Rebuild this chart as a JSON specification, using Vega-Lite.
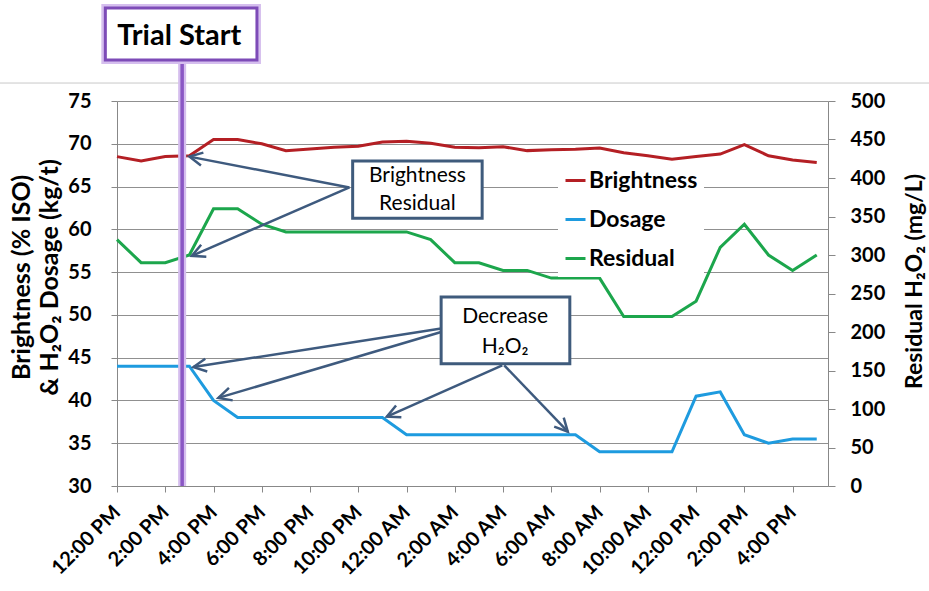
{
  "$schema": "https://vega.github.io/schema/vega-lite/v6.json",
  "width": 711,
  "height": 385,
  "autosize": "none",
  "padding": {"left": 117, "top": 101, "right": 101, "bottom": 105},
  "background": "white",
  "config": {
    "font": "Lato",
    "view": {"stroke": null},
    "axis": {"labelFont": "Lato", "titleFont": "Lato"},
    "legend": {"labelFont": "Lato"}
  },
  "datasets": {
    "series": [
      {"t": "2020-01-01T12:00:00", "Brightness": 68.5, "Dosage": 44, "Residual": 320},
      {"t": "2020-01-01T13:00:00", "Brightness": 68.0, "Dosage": 44, "Residual": 290},
      {"t": "2020-01-01T14:00:00", "Brightness": 68.5, "Dosage": 44, "Residual": 290},
      {"t": "2020-01-01T15:00:00", "Brightness": 68.6, "Dosage": 44, "Residual": 300},
      {"t": "2020-01-01T16:00:00", "Brightness": 70.5, "Dosage": 40, "Residual": 360},
      {"t": "2020-01-01T17:00:00", "Brightness": 70.5, "Dosage": 38, "Residual": 360},
      {"t": "2020-01-01T18:00:00", "Brightness": 70.0, "Dosage": 38, "Residual": 340},
      {"t": "2020-01-01T19:00:00", "Brightness": 69.2, "Dosage": 38, "Residual": 330},
      {"t": "2020-01-01T20:00:00", "Brightness": 69.4, "Dosage": 38, "Residual": 330},
      {"t": "2020-01-01T21:00:00", "Brightness": 69.6, "Dosage": 38, "Residual": 330},
      {"t": "2020-01-01T22:00:00", "Brightness": 69.7, "Dosage": 38, "Residual": 330},
      {"t": "2020-01-01T23:00:00", "Brightness": 70.2, "Dosage": 38, "Residual": 330},
      {"t": "2020-01-02T00:00:00", "Brightness": 70.3, "Dosage": 36, "Residual": 330},
      {"t": "2020-01-02T01:00:00", "Brightness": 70.05, "Dosage": 36, "Residual": 320},
      {"t": "2020-01-02T02:00:00", "Brightness": 69.6, "Dosage": 36, "Residual": 290},
      {"t": "2020-01-02T03:00:00", "Brightness": 69.55, "Dosage": 36, "Residual": 290},
      {"t": "2020-01-02T04:00:00", "Brightness": 69.65, "Dosage": 36, "Residual": 280},
      {"t": "2020-01-02T05:00:00", "Brightness": 69.2, "Dosage": 36, "Residual": 280},
      {"t": "2020-01-02T06:00:00", "Brightness": 69.3, "Dosage": 36, "Residual": 270},
      {"t": "2020-01-02T07:00:00", "Brightness": 69.35, "Dosage": 36, "Residual": 270},
      {"t": "2020-01-02T08:00:00", "Brightness": 69.5, "Dosage": 34, "Residual": 270},
      {"t": "2020-01-02T09:00:00", "Brightness": 68.95, "Dosage": 34, "Residual": 220},
      {"t": "2020-01-02T10:00:00", "Brightness": 68.6, "Dosage": 34, "Residual": 220},
      {"t": "2020-01-02T11:00:00", "Brightness": 68.2, "Dosage": 34, "Residual": 220},
      {"t": "2020-01-02T12:00:00", "Brightness": 68.5, "Dosage": 40.5, "Residual": 240},
      {"t": "2020-01-02T13:00:00", "Brightness": 68.8, "Dosage": 41, "Residual": 310},
      {"t": "2020-01-02T14:00:00", "Brightness": 69.9, "Dosage": 36, "Residual": 340},
      {"t": "2020-01-02T15:00:00", "Brightness": 68.6, "Dosage": 35, "Residual": 300},
      {"t": "2020-01-02T16:00:00", "Brightness": 68.1, "Dosage": 35.5, "Residual": 280},
      {"t": "2020-01-02T17:00:00", "Brightness": 67.8, "Dosage": 35.5, "Residual": 300}
    ],
    "arrows": [
      {"id": "B1", "t1": "2020-01-01T21:38:00", "v1": 64.9, "t2": "2020-01-01T15:00:00", "v2": 68.5},
      {"id": "B2", "t1": "2020-01-01T21:38:00", "v1": 64.9, "t2": "2020-01-01T15:06:00", "v2": 56.9},
      {"id": "D1", "t1": "2020-01-02T01:26:00", "v1": 48.4, "t2": "2020-01-01T15:10:00", "v2": 43.9},
      {"id": "D2", "t1": "2020-01-02T01:26:00", "v1": 48.0, "t2": "2020-01-01T16:12:00", "v2": 40.3},
      {"id": "D3", "t1": "2020-01-02T03:58:00", "v1": 44.1, "t2": "2020-01-01T23:11:00", "v2": 38.1},
      {"id": "D4", "t1": "2020-01-02T04:03:00", "v1": 44.1, "t2": "2020-01-02T06:41:00", "v2": 36.35}
    ],
    "boxes": [
      {"id": "BR", "t1": "2020-01-01T21:46:00", "t2": "2020-01-02T03:08:00", "v1": 61.3, "v2": 68.0},
      {"id": "DH", "t1": "2020-01-02T01:26:00", "t2": "2020-01-02T06:46:00", "v1": 44.3, "v2": 52.1}
    ],
    "boxtext": [
      {"t": "2020-01-02T00:27:00", "v": 65.57, "text": "Brightness"},
      {"t": "2020-01-02T00:27:00", "v": 62.26, "text": "Residual"},
      {"t": "2020-01-02T04:05:00", "v": 49.09, "text": "Decrease"},
      {"t": "2020-01-02T04:05:00", "v": 45.58, "text": "H₂O₂"}
    ],
    "trial": [
      {"t": "2020-01-01T14:42:00", "v1": 30, "v2": 79.8, "tb1": "2020-01-01T11:31:00", "tb2": "2020-01-01T17:48:00", "vb1": 79.8, "vb2": 85.87, "tt": "2020-01-01T14:35:00", "vt": 81.6, "label": "Trial Start"}
    ],
    "frame": [
      {"t1": "2020-01-01T06:00:00", "t2": "2020-01-02T23:00:00", "v": 77.1}
    ]
  },
  "layer": [
    {
      "data": {"name": "series"},
      "transform": [{"fold": ["Residual"], "as": ["series", "value"]}],
      "mark": {"type": "line", "strokeWidth": 3},
      "encoding": {
        "x": {"field": "t", "type": "temporal"},
        "y": {
          "field": "value", "type": "quantitative",
          "scale": {"domain": [0, 500], "nice": false, "zero": false},
          "axis": {
            "orient": "right", "values": [0, 50, 100, 150, 200, 250, 300, 350, 400, 450, 500],
            "grid": false, "domainColor": "#888888", "tickColor": "#888888", "tickSize": 7,
            "labelFontSize": 20, "labelFontWeight": "bold", "labelColor": "#000000", "labelPadding": 15,
            "title": "Residual H₂O₂ (mg/L)", "titleFontSize": 23, "titleFontWeight": "bold", "titleColor": "#000000",
            "titleAngle": -90, "titleBaseline": "alphabetic", "titleAlign": "center", "titleX": 93, "titleY": 180
          }
        },
        "color": {
          "field": "series", "type": "nominal",
          "scale": {"domain": ["Brightness", "Dosage", "Residual"], "range": ["#B41F24", "#1E9BDF", "#1CA64C"]},
          "legend": {
            "orient": "none", "legendX": 441, "legendY": 62, "title": null, "fillColor": "white", "padding": 6,
            "symbolType": "stroke", "symbolSize": 400, "symbolStrokeWidth": 3, "labelFontSize": 23,
            "labelFontWeight": "bold", "labelColor": "#000000", "rowPadding": 15, "labelOffset": 2
          }
        }
      }
    },
    {
      "layer": [
        {
          "data": {"name": "frame"},
          "mark": {"type": "rule", "color": "#C8C8C8", "strokeWidth": 1},
          "encoding": {
            "x": {"field": "t1", "type": "temporal"},
            "x2": {"field": "t2"},
            "y": {"field": "v", "type": "quantitative"}
          }
        },
        {
          "data": {"name": "series"},
          "transform": [{"fold": ["Brightness", "Dosage"], "as": ["series", "value"]}],
          "mark": {"type": "line", "strokeWidth": 3},
          "encoding": {
            "x": {
              "field": "t", "type": "temporal",
              "scale": {"domain": [{"year": 2020, "month": 1, "date": 1, "hours": 12}, {"year": 2020, "month": 1, "date": 2, "hours": 17, "minutes": 28}], "nice": false},
              "axis": {
                "orient": "bottom",
                "values": [
                  {"year": 2020, "month": 1, "date": 1, "hours": 12},
                  {"year": 2020, "month": 1, "date": 1, "hours": 13},
                  {"year": 2020, "month": 1, "date": 1, "hours": 14},
                  {"year": 2020, "month": 1, "date": 1, "hours": 15},
                  {"year": 2020, "month": 1, "date": 1, "hours": 16},
                  {"year": 2020, "month": 1, "date": 1, "hours": 17},
                  {"year": 2020, "month": 1, "date": 1, "hours": 18},
                  {"year": 2020, "month": 1, "date": 1, "hours": 19},
                  {"year": 2020, "month": 1, "date": 1, "hours": 20},
                  {"year": 2020, "month": 1, "date": 1, "hours": 21},
                  {"year": 2020, "month": 1, "date": 1, "hours": 22},
                  {"year": 2020, "month": 1, "date": 1, "hours": 23},
                  {"year": 2020, "month": 1, "date": 2, "hours": 0},
                  {"year": 2020, "month": 1, "date": 2, "hours": 1},
                  {"year": 2020, "month": 1, "date": 2, "hours": 2},
                  {"year": 2020, "month": 1, "date": 2, "hours": 3},
                  {"year": 2020, "month": 1, "date": 2, "hours": 4},
                  {"year": 2020, "month": 1, "date": 2, "hours": 5},
                  {"year": 2020, "month": 1, "date": 2, "hours": 6},
                  {"year": 2020, "month": 1, "date": 2, "hours": 7},
                  {"year": 2020, "month": 1, "date": 2, "hours": 8},
                  {"year": 2020, "month": 1, "date": 2, "hours": 9},
                  {"year": 2020, "month": 1, "date": 2, "hours": 10},
                  {"year": 2020, "month": 1, "date": 2, "hours": 11},
                  {"year": 2020, "month": 1, "date": 2, "hours": 12},
                  {"year": 2020, "month": 1, "date": 2, "hours": 13},
                  {"year": 2020, "month": 1, "date": 2, "hours": 14},
                  {"year": 2020, "month": 1, "date": 2, "hours": 15},
                  {"year": 2020, "month": 1, "date": 2, "hours": 16},
                  {"year": 2020, "month": 1, "date": 2, "hours": 17}
                ],
                "format": "%-I:%M %p",
                "labelAngle": -45, "labelAlign": "right", "labelBaseline": "middle",
                "labelFontSize": 20, "labelFontWeight": "bold", "labelColor": "#000000", "labelPadding": 17,
                "labelOverlap": "parity", "labelSeparation": -36, "labelFlush": false, "grid": false,
                "domainColor": "#888888", "tickColor": "#888888", "tickSize": 6, "title": null
              }
            },
            "y": {
              "field": "value", "type": "quantitative",
              "scale": {"domain": [30, 75], "nice": false, "zero": false},
              "axis": {
                "orient": "left", "values": [30, 35, 40, 45, 50, 55, 60, 65, 70, 75],
                "grid": true, "gridColor": "#909090", "gridWidth": 1,
                "domainColor": "#888888", "tickColor": "#888888", "tickSize": 6,
                "labelFontSize": 20, "labelFontWeight": "bold", "labelColor": "#000000", "labelPadding": 20,
                "title": ["Brightness (% ISO)", "& H₂O₂ Dosage (kg/t)"], "titleFontSize": 25, "titleFontWeight": "bold",
                "titleColor": "#000000", "titleLineHeight": 28, "titleAngle": -90, "titleBaseline": "alphabetic",
                "titleAlign": "center", "titleX": -88, "titleY": 176
              }
            },
            "color": {
              "field": "series", "type": "nominal",
              "scale": {"domain": ["Brightness", "Dosage", "Residual"], "range": ["#B41F24", "#1E9BDF", "#1CA64C"]},
              "legend": {
                "orient": "none", "legendX": 441, "legendY": 62, "title": null, "fillColor": "white", "padding": 6,
                "symbolType": "stroke", "symbolSize": 400, "symbolStrokeWidth": 3, "labelFontSize": 23,
                "labelFontWeight": "bold", "labelColor": "#000000", "rowPadding": 15, "labelOffset": 2
              }
            }
          }
        },
        {
          "data": {"name": "trial"},
          "mark": {"type": "rule", "color": "#D5BEEE", "strokeWidth": 8},
          "encoding": {
            "x": {"field": "t", "type": "temporal"},
            "y": {"field": "v1", "type": "quantitative"},
            "y2": {"field": "v2"}
          }
        },
        {
          "data": {"name": "trial"},
          "mark": {"type": "rule", "color": "#8A57C4", "strokeWidth": 3.5},
          "encoding": {
            "x": {"field": "t", "type": "temporal"},
            "y": {"field": "v1", "type": "quantitative"},
            "y2": {"field": "v2"}
          }
        },
        {
          "data": {"name": "trial"},
          "mark": {"type": "rect", "fill": "white", "stroke": "#D5BEEE", "strokeWidth": 8},
          "encoding": {
            "x": {"field": "tb1", "type": "temporal"},
            "x2": {"field": "tb2"},
            "y": {"field": "vb1", "type": "quantitative"},
            "y2": {"field": "vb2"}
          }
        },
        {
          "data": {"name": "trial"},
          "mark": {"type": "rect", "fill": "white", "stroke": "#7D4BB7", "strokeWidth": 3},
          "encoding": {
            "x": {"field": "tb1", "type": "temporal"},
            "x2": {"field": "tb2"},
            "y": {"field": "vb1", "type": "quantitative"},
            "y2": {"field": "vb2"}
          }
        },
        {
          "data": {"name": "trial"},
          "mark": {"type": "text", "fontSize": 29, "fontWeight": "bold", "font": "Lato", "color": "#000000", "align": "center", "baseline": "alphabetic"},
          "encoding": {
            "x": {"field": "tt", "type": "temporal"},
            "y": {"field": "vt", "type": "quantitative"},
            "text": {"field": "label"}
          }
        },
        {
          "data": {"name": "arrows"},
          "mark": {"type": "rule", "color": "#3E5A7E", "strokeWidth": 2.5},
          "encoding": {
            "x": {"field": "t1", "type": "temporal"},
            "x2": {"field": "t2"},
            "y": {"field": "v1", "type": "quantitative"},
            "y2": {"field": "v2"}
          }
        },
        {
          "data": {"name": "arrows"},
          "transform": [{"filter": "datum.id == 'B1'"}],
          "mark": {"type": "point", "shape": "M-1,-0.5L0,0L-1,0.5", "size": 676, "filled": false, "color": "#3E5A7E", "strokeWidth": 2.5, "opacity": 1, "angle": 190.8},
          "encoding": {"x": {"field": "t2", "type": "temporal"}, "y": {"field": "v2", "type": "quantitative"}}
        },
        {
          "data": {"name": "arrows"},
          "transform": [{"filter": "datum.id == 'B2'"}],
          "mark": {"type": "point", "shape": "M-1,-0.5L0,0L-1,0.5", "size": 676, "filled": false, "color": "#3E5A7E", "strokeWidth": 2.5, "opacity": 1, "angle": 156.6},
          "encoding": {"x": {"field": "t2", "type": "temporal"}, "y": {"field": "v2", "type": "quantitative"}}
        },
        {
          "data": {"name": "arrows"},
          "transform": [{"filter": "datum.id == 'D1'"}],
          "mark": {"type": "point", "shape": "M-1,-0.5L0,0L-1,0.5", "size": 676, "filled": false, "color": "#3E5A7E", "strokeWidth": 2.5, "opacity": 1, "angle": 171.2},
          "encoding": {"x": {"field": "t2", "type": "temporal"}, "y": {"field": "v2", "type": "quantitative"}}
        },
        {
          "data": {"name": "arrows"},
          "transform": [{"filter": "datum.id == 'D2'"}],
          "mark": {"type": "point", "shape": "M-1,-0.5L0,0L-1,0.5", "size": 676, "filled": false, "color": "#3E5A7E", "strokeWidth": 2.5, "opacity": 1, "angle": 163.4},
          "encoding": {"x": {"field": "t2", "type": "temporal"}, "y": {"field": "v2", "type": "quantitative"}}
        },
        {
          "data": {"name": "arrows"},
          "transform": [{"filter": "datum.id == 'D3'"}],
          "mark": {"type": "point", "shape": "M-1,-0.5L0,0L-1,0.5", "size": 676, "filled": false, "color": "#3E5A7E", "strokeWidth": 2.5, "opacity": 1, "angle": 155.9},
          "encoding": {"x": {"field": "t2", "type": "temporal"}, "y": {"field": "v2", "type": "quantitative"}}
        },
        {
          "data": {"name": "arrows"},
          "transform": [{"filter": "datum.id == 'D4'"}],
          "mark": {"type": "point", "shape": "M-1,-0.5L0,0L-1,0.5", "size": 676, "filled": false, "color": "#3E5A7E", "strokeWidth": 2.5, "opacity": 1, "angle": 47.1},
          "encoding": {"x": {"field": "t2", "type": "temporal"}, "y": {"field": "v2", "type": "quantitative"}}
        },
        {
          "data": {"name": "boxes"},
          "mark": {"type": "rect", "fill": "white", "stroke": "#3F5B7C", "strokeWidth": 3},
          "encoding": {
            "x": {"field": "t1", "type": "temporal"},
            "x2": {"field": "t2"},
            "y": {"field": "v1", "type": "quantitative"},
            "y2": {"field": "v2"}
          }
        },
        {
          "data": {"name": "boxtext"},
          "mark": {"type": "text", "fontSize": 21, "font": "Lato", "color": "#000000", "align": "center", "baseline": "alphabetic"},
          "encoding": {
            "x": {"field": "t", "type": "temporal"},
            "y": {"field": "v", "type": "quantitative"},
            "text": {"field": "text"}
          }
        }
      ]
    }
  ],
  "resolve": {"scale": {"y": "independent"}}
}
